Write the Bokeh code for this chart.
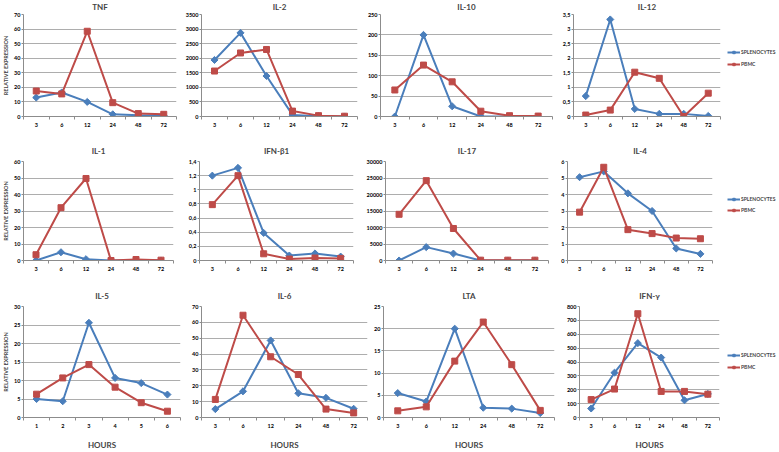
from math import pi
from bokeh.plotting import figure
from bokeh.layouts import row, column
from bokeh.models import Range1d, FixedTicker
from bokeh.embed import file_html
from bokeh.resources import INLINE

# ---------------- data ----------------
hours = ["3", "6", "12", "24", "48", "72"]
days = ["1", "2", "3", "4", "5", "6"]

tnf_spl = [13, 16.5, 10, 1.5, 0.8, 0.5]
tnf_pbmc = [17.5, 15.5, 58.5, 9.5, 2, 1.5]
il2_spl = [1940, 2870, 1390, 55, 10, 0]
il2_pbmc = [1560, 2180, 2300, 185, 30, 10]
il10_spl = [0, 200, 25, 0, 0, 0]
il10_pbmc = [65, 126, 85, 13, 2, 1]
il12_spl = [0.7, 3.33, 0.26, 0.09, 0.09, 0.02]
il12_pbmc = [0.05, 0.22, 1.52, 1.31, 0.0, 0.8]

il1_spl = [0, 5, 0.8, 0, 0.2, 0]
il1_pbmc = [3.5, 32, 49.7, 0, 0.6, 0.2]
ifnb_spl = [1.2, 1.31, 0.39, 0.07, 0.1, 0.055]
ifnb_pbmc = [0.79, 1.2, 0.095, 0.02, 0.035, 0.03]
il17_spl = [0, 4050, 2100, 0, 0, 0]
il17_pbmc = [14000, 24200, 9700, 100, 100, 100]
il4_spl = [5.05, 5.4, 4.07, 3.0, 0.73, 0.4]
il4_pbmc = [2.93, 5.65, 1.87, 1.63, 1.36, 1.32]

il5_spl = [5.0, 4.4, 25.6, 10.7, 9.3, 6.2]
il5_pbmc = [6.3, 10.7, 14.3, 8.2, 4.0, 1.7]
il6_spl = [5.3, 16.5, 48.6, 15.3, 12.4, 5.5]
il6_pbmc = [11.4, 64.5, 38.3, 27.1, 5.3, 2.9]
lta_spl = [5.5, 3.6, 20, 2.2, 2.0, 1.0]
lta_pbmc = [1.5, 2.4, 12.7, 21.5, 11.9, 1.6]
ifng_spl = [65, 323, 536, 432, 124, 170]
ifng_pbmc = [129, 205, 748, 188, 188, 168]

tnf_ticks = [0, 10, 20, 30, 40, 50, 60, 70]
il2_ticks = [0, 500, 1000, 1500, 2000, 2500, 3000, 3500]
il10_ticks = [0, 50, 100, 150, 200, 250]
il12_ticks = [0, 0.5, 1, 1.5, 2, 2.5, 3, 3.5]
il1_ticks = [0, 10, 20, 30, 40, 50, 60]
ifnb_ticks = [0, 0.2, 0.4, 0.6, 0.8, 1, 1.2, 1.4]
il17_ticks = [0, 5000, 10000, 15000, 20000, 25000, 30000]
il4_ticks = [0, 1, 2, 3, 4, 5, 6]
il5_ticks = [0, 5, 10, 15, 20, 25, 30]
il6_ticks = [0, 10, 20, 30, 40, 50, 60, 70]
lta_ticks = [0, 5, 10, 15, 20, 25]
ifng_ticks = [0, 100, 200, 300, 400, 500, 600, 700, 800]

series_names = ["SPLENOCYTES", "PBMC"]

# ---------------- style ----------------
BLUE = "#4a7ebb"
RED = "#be4b48"
GRID = "#adadad"
AXIS = "#8c8c8c"
FONT = "Lato"
NAN = float("nan")


def fmt(v, comma):
    s = ("%g" % v)
    return s.replace(".", ",") if comma else s


def draw_series(p, xs, spl, pbmc, legend=False):
    ks = {"legend_label": series_names[0]} if legend else {}
    kp = {"legend_label": series_names[1]} if legend else {}
    p.line(xs, spl, color=BLUE, line_width=2, **ks)
    p.scatter(xs, spl, marker="square", angle=pi / 4, size=5, color=BLUE, **ks)
    p.line(xs, pbmc, color=RED, line_width=2, **kp)
    p.scatter(xs, pbmc, marker="square", size=6, color=RED, **kp)


def panel(name, cats, spl, pbmc, ticks, w, h, bl, br, bt, bb, tso,
          comma=False, ylab=False, xlab=False):
    n = len(cats)
    p = figure(width=w, height=h, x_range=Range1d(0, n),
               y_range=Range1d(ticks[0], ticks[-1]),
               output_backend="svg", toolbar_location=None,
               min_border_left=bl, min_border_right=br,
               min_border_top=bt, min_border_bottom=bb, title=name)
    xs = [i + 0.5 for i in range(n)]
    draw_series(p, xs, spl, pbmc)

    p.outline_line_color = None
    p.xgrid.visible = False
    p.ygrid.ticker = FixedTicker(ticks=ticks[1:])
    p.ygrid.grid_line_color = GRID

    p.title.text_font = FONT
    p.title.text_font_size = "8px"
    p.title.text_font_style = "bold"
    p.title.align = "center"
    p.title.vertical_align = "top"
    p.title.standoff = tso

    yax = p.yaxis[0]
    yax.ticker = FixedTicker(ticks=ticks)
    yax.major_label_overrides = {t: fmt(t, comma) for t in ticks}
    yax.major_tick_out = 2
    yax.major_tick_in = 0
    yax.major_tick_line_color = AXIS
    yax.major_label_standoff = 1

    xax = p.xaxis[0]
    xax.ticker = FixedTicker(ticks=xs, minor_ticks=list(range(n + 1)))
    xax.major_label_overrides = {x: c for x, c in zip(xs, cats)}
    xax.major_tick_line_color = None
    xax.major_tick_out = 3
    xax.major_tick_in = 0
    xax.minor_tick_out = 3
    xax.minor_tick_in = 0
    xax.minor_tick_line_color = AXIS
    xax.major_label_standoff = 3

    for ax in (xax, yax):
        ax.axis_line_color = AXIS
        ax.major_label_text_font = FONT
        ax.major_label_text_font_size = "5.5px"
        ax.major_label_text_font_style = "bold"
        ax.major_label_text_color = "black"

    if ylab:
        yax.axis_label = "RELATIVE EXPRESSION"
        yax.axis_label_text_font = FONT
        yax.axis_label_text_font_size = "5.5px"
        yax.axis_label_text_font_style = "bold"
        yax.axis_label_standoff = 2
    if xlab:
        xax.axis_label = "HOURS"
        xax.axis_label_text_font = FONT
        xax.axis_label_text_font_size = "8px"
        xax.axis_label_text_font_style = "bold"
        xax.axis_label_standoff = 9
    return p


def legend_fig(h, vy, spacing):
    p = figure(width=54, height=h, x_range=Range1d(0, 1), y_range=Range1d(0, 1),
               x_axis_type=None, y_axis_type=None,
               min_border_left=0, min_border_right=0,
               min_border_top=0, min_border_bottom=0,
               output_backend="svg", toolbar_location=None)
    p.outline_line_color = None
    p.grid.visible = False
    draw_series(p, [NAN], [NAN], [NAN], legend=True)
    lg = p.legend[0]
    lg.location = (2, vy)
    lg.spacing = spacing
    lg.border_line_color = None
    lg.background_fill_alpha = 0
    lg.padding = 0
    lg.margin = 0
    lg.glyph_width = 13
    lg.glyph_height = 6
    lg.label_height = 6
    lg.label_standoff = 1
    lg.label_text_font = FONT
    lg.label_text_font_size = "5px"
    lg.label_text_font_style = "bold"
    lg.label_text_baseline = "middle"
    return p


# row 1
tnf = panel("TNF", hours, tnf_spl, tnf_pbmc, tnf_ticks, 178, 138, 21, 2, 14, 21, 2, ylab=True)
il2 = panel("IL-2", hours, il2_spl, il2_pbmc, il2_ticks, 184, 138, 23, 5, 13, 18, 2)
il10 = panel("IL-10", hours, il10_spl, il10_pbmc, il10_ticks, 193, 138, 18, 3, 12, 21, 2)
il12 = panel("IL-12", hours, il12_spl, il12_pbmc, il12_ticks, 170, 138, 18, 5, 12, 22, 2, comma=True)
leg1 = legend_fig(138, 49, 6)
# row 2
il1 = panel("IL-1", hours, il1_spl, il1_pbmc, il1_ticks, 180, 144, 22, 7, 23, 18, 7, ylab=True)
ifnb = panel("IFN-\u03b21", hours, ifnb_spl, ifnb_pbmc, ifnb_ticks, 181, 144, 19, 8, 22, 19, 7, comma=True)
il17 = panel("IL-17", hours, il17_spl, il17_pbmc, il17_ticks, 195, 144, 24, 8, 19, 21, 7)
il4 = panel("IL-4", hours, il4_spl, il4_pbmc, il4_ticks, 169, 144, 11, 13, 19, 22, 7)
leg2 = legend_fig(144, 47, 5)
# row 3
il5 = panel("IL-5", days, il5_spl, il5_pbmc, il5_ticks, 186, 170, 21, 6, 24, 30, 7, ylab=True, xlab=True)
il6 = panel("IL-6", hours, il6_spl, il6_pbmc, il6_ticks, 182, 170, 15, 1, 22, 29, 7, xlab=True)
lta = panel("LTA", hours, lta_spl, lta_pbmc, lta_ticks, 194, 170, 15, 8, 22, 26, 7, xlab=True)
ifng = panel("IFN-\u03b3", hours, ifng_spl, ifng_pbmc, ifng_ticks, 163, 170, 17, 6, 21, 27, 7, xlab=True)
leg3 = legend_fig(170, 47, 6)

layout = column(row(tnf, il2, il10, il12, leg1, spacing=0),
                row(il1, ifnb, il17, il4, leg2, spacing=0),
                row(il5, il6, lta, ifng, leg3, spacing=0),
                spacing=0)

open("out.html", "w").write(file_html(layout, INLINE))
